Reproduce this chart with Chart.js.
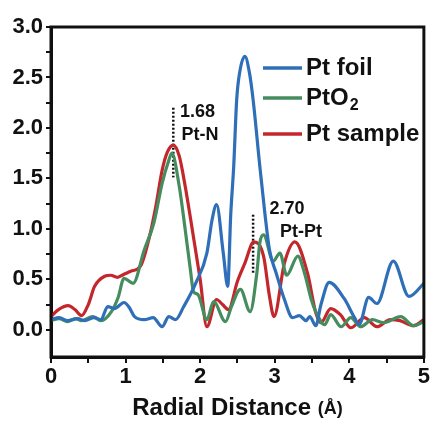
<!doctype html>
<html>
<head>
  <title>Radial distance</title>
  <script src="https://cdn.jsdelivr.net/npm/chart.js@4.4.0/dist/chart.umd.min.js"></script>
  <style>
    html, body { margin: 0; padding: 0; background: #fff; }
    #wrap { width: 431px; height: 431px; }
  </style>
</head>
<body>
  <div id="wrap"><canvas id="canvas" width="431" height="431"></canvas></div>

  <script>
    // Pt foil
    var foilX = [0.0, 0.11, 0.22, 0.36, 0.45, 0.58, 0.67, 0.76, 0.85, 0.98, 1.05, 1.12, 1.25, 1.37, 1.49, 1.58, 1.67, 1.78, 1.94, 2.09, 2.16, 2.22, 2.31, 2.37, 2.41, 2.45, 2.49, 2.53, 2.60, 2.66, 2.71, 2.80, 2.87, 2.93, 3.02, 3.13, 3.24, 3.33, 3.42, 3.47, 3.55, 3.62, 3.73, 3.93, 4.07, 4.13, 4.26, 4.37, 4.59, 4.80, 5.0];
    var foilY = [0.10, 0.12, 0.09, 0.11, 0.09, 0.12, 0.10, 0.23, 0.21, 0.27, 0.22, 0.13, 0.10, 0.12, 0.03, 0.13, 0.10, 0.23, 0.46, 0.76, 1.09, 1.24, 0.76, 0.43, 1.14, 1.62, 2.28, 2.55, 2.71, 2.55, 2.28, 1.62, 1.14, 0.79, 0.56, 0.30, 0.12, 0.14, 0.09, 0.13, 0.04, 0.25, 0.47, 0.31, 0.12, 0.05, 0.32, 0.26, 0.68, 0.33, 0.46];

    // PtO2
    var oxideX = [0.0, 0.11, 0.22, 0.33, 0.41, 0.56, 0.67, 0.81, 0.90, 0.98, 1.10, 1.25, 1.38, 1.49, 1.58, 1.62, 1.72, 1.80, 1.87, 1.91, 1.97, 2.09, 2.18, 2.34, 2.42, 2.54, 2.67, 2.76, 2.80, 2.85, 2.98, 3.07, 3.16, 3.31, 3.40, 3.49, 3.55, 3.67, 3.75, 3.89, 4.02, 4.15, 4.31, 4.46, 4.69, 4.86, 5.0];
    var oxideY = [0.09, 0.11, 0.08, 0.11, 0.09, 0.13, 0.09, 0.18, 0.32, 0.51, 0.46, 0.79, 1.06, 1.45, 1.68, 1.75, 1.42, 0.99, 0.59, 0.38, 0.35, 0.10, 0.28, 0.08, 0.23, 0.40, 0.18, 0.56, 0.86, 0.94, 0.68, 0.76, 0.54, 0.73, 0.56, 0.30, 0.18, 0.05, 0.15, 0.03, 0.12, 0.03, 0.10, 0.07, 0.13, 0.04, 0.08];

    // Pt sample
    var sampleX = [0.0, 0.10, 0.23, 0.32, 0.41, 0.50, 0.585, 0.72, 0.80, 0.89, 0.98, 1.07, 1.20, 1.32, 1.40, 1.49, 1.56, 1.64, 1.72, 1.80, 1.91, 2.00, 2.09, 2.22, 2.30, 2.38, 2.50, 2.60, 2.72, 2.85, 2.93, 2.99, 3.13, 3.27, 3.44, 3.55, 3.62, 3.75, 3.88, 4.02, 4.20, 4.37, 4.55, 4.68, 4.86, 5.0];
    var sampleY = [0.13, 0.20, 0.24, 0.20, 0.14, 0.25, 0.43, 0.53, 0.54, 0.52, 0.55, 0.58, 0.63, 0.92, 1.20, 1.58, 1.76, 1.83, 1.72, 1.42, 0.92, 0.50, 0.03, 0.30, 0.25, 0.20, 0.48, 0.66, 0.87, 0.73, 0.33, 0.13, 0.66, 0.87, 0.56, 0.17, 0.07, 0.21, 0.15, 0.02, 0.12, 0.03, 0.10, 0.09, 0.04, 0.10];

    var seriesNames = ["Pt foil", "PtO2", "Pt sample"];
    var seriesColors = ["#2f6fb7", "#458d5f", "#c4272b"];

    var xTicks = [0, 0.5, 1, 1.5, 2, 2.5, 3, 3.5, 4, 4.5, 5];
    var yTicks = [0, 0.25, 0.5, 0.75, 1, 1.25, 1.5, 1.75, 2, 2.25, 2.5, 2.75, 3];

    // dotted peak markers and their labels
    var markX = [1.64, 2.71];
    var markTop = [2.20, 1.14];
    var markBottom = [1.51, 0.56];
    var markValue = ["1.68", "2.70"];
    var markBond = ["Pt-N", "Pt-Pt"];
    var valuePos = [[1.73, 2.16], [2.93, 1.20]];
    var bondPos = [[1.75, 1.93], [3.07, 0.97]];

    function pts(xs, ys) {
      return xs.map(function (x, i) { return { x: x, y: ys[i] }; });
    }

    var lineSets = [
      pts(foilX, foilY),
      pts(oxideX, oxideY),
      pts(sampleX, sampleY)
    ].map(function (d, i) {
      return {
        label: seriesNames[i],
        data: d,
        borderColor: seriesColors[i],
        backgroundColor: seriesColors[i],
        borderWidth: 3.2,
        pointRadius: 0,
        fill: false,
        tension: 0.4,
        cubicInterpolationMode: "monotone"
      };
    });

    var markSets = markX.map(function (x, i) {
      return {
        label: "mark" + i,
        data: [{ x: x, y: markTop[i] }, { x: x, y: markBottom[i] }],
        borderColor: "#111",
        borderWidth: 2.5,
        borderDash: [2, 2],
        pointRadius: 0,
        fill: false
      };
    });

    var FONT = "'Liberation Sans', Arial, sans-serif";

    var decor = {
      id: "decor",
      afterDraw: function (chart) {
        var c = chart.ctx, a = chart.chartArea;
        var sx = chart.scales.x, sy = chart.scales.y;
        c.save();
        // frame
        c.strokeStyle = "#111";
        c.lineWidth = 3;
        c.strokeRect(a.left, a.top, a.right - a.left, a.bottom - a.top);

        // peak labels
        c.fillStyle = "#111";
        c.textBaseline = "middle";
        c.textAlign = "left";
        c.font = "bold 18px " + FONT;
        markValue.forEach(function (t, i) {
          c.fillText(t, sx.getPixelForValue(valuePos[i][0]), sy.getPixelForValue(valuePos[i][1]));
          c.fillText(markBond[i], sx.getPixelForValue(bondPos[i][0]), sy.getPixelForValue(bondPos[i][1]));
        });

        // legend
        var lx = 263, ly = [68, 98, 134];
        seriesNames.forEach(function (n, i) {
          c.strokeStyle = seriesColors[i];
          c.lineWidth = 3.5;
          c.beginPath();
          c.moveTo(lx, ly[i]);
          c.lineTo(lx + 39, ly[i]);
          c.stroke();
          c.fillStyle = "#111";
          c.font = "bold 24px " + FONT;
          if (n === "PtO2") {
            c.fillText("PtO", lx + 43, ly[i]);
            var w = c.measureText("PtO").width;
            c.font = "bold 16px " + FONT;
            c.fillText("2", lx + 44 + w, ly[i] + 8);
          } else {
            c.fillText(n, lx + 43, ly[i]);
          }
        });

        // axis title with smaller unit
        var t1 = "Radial Distance ", t2 = "(Å)";
        c.font = "bold 24px " + FONT;
        var w1 = c.measureText(t1).width;
        c.font = "bold 18px " + FONT;
        var w2 = c.measureText(t2).width;
        var x0 = (a.left + a.right) / 2 - (w1 + w2) / 2;
        c.textBaseline = "alphabetic";
        c.font = "bold 24px " + FONT;
        c.fillText(t1, x0, 415);
        c.font = "bold 18px " + FONT;
        c.fillText(t2, x0 + w1, 414);
        c.restore();
      }
    };

    var tickFont = { family: FONT, size: 22, weight: "bold" };

    var chart = new Chart("canvas", {
      type: "line",
      data: { datasets: lineSets.concat(markSets) },
      options: {
        responsive: false,
        animation: false,
        events: [],
        layout: { padding: { top: 27, right: 4, left: 0, bottom: 0 } },
        plugins: { legend: { display: false }, tooltip: { enabled: false } },
        scales: {
          x: {
            type: "linear",
            min: 0,
            max: 5,
            afterBuildTicks: function (s) { s.ticks = xTicks.map(function (v) { return { value: v }; }); },
            afterFit: function (s) { s.height = 74; },
            border: { display: true, color: "#111", width: 3 },
            grid: { drawOnChartArea: false, drawTicks: true, tickLength: 6, color: "#111", lineWidth: 2 },
            ticks: {
              color: "#111",
              font: tickFont,
              padding: 1,
              maxRotation: 0,
              autoSkip: false,
              callback: function (v) { return v % 1 === 0 ? String(v) : ""; }
            }
          },
          y: {
            min: -0.27,
            max: 3.0,
            afterBuildTicks: function (s) { s.ticks = yTicks.map(function (v) { return { value: v }; }); },
            afterFit: function (s) { s.width = 51; },
            border: { display: true, color: "#111", width: 3 },
            grid: { drawOnChartArea: false, drawTicks: true, tickLength: 5, color: "#111", lineWidth: 2 },
            ticks: {
              color: "#111",
              font: tickFont,
              padding: 3,
              autoSkip: false,
              callback: function (v) { return (v * 2) % 1 === 0 ? v.toFixed(1) : ""; }
            }
          }
        }
      },
      plugins: [decor]
    });
  </script>
</body>
</html>
